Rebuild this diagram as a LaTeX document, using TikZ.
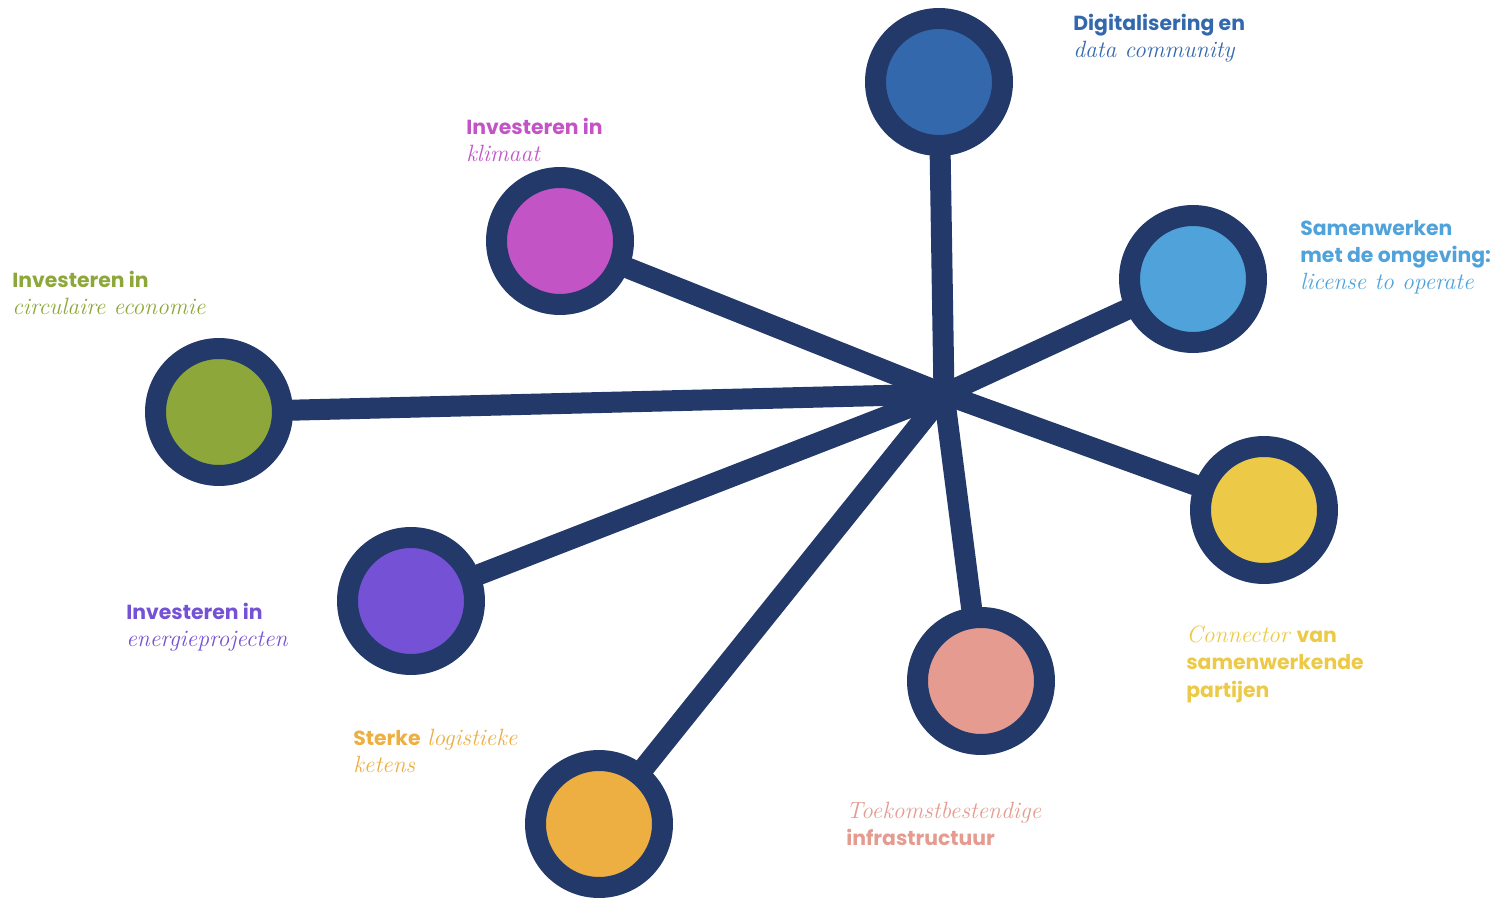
\documentclass[tikz,border=0pt]{standalone}
\usepackage{fontspec}
\newfontfamily\kopfont{Poppins}
\usetikzlibrary{backgrounds}

% kleuren van de ringen en de teksten
\definecolor{navy}{HTML}{22396A}
\definecolor{cblauw}{HTML}{3468AD}
\definecolor{cmagenta}{HTML}{C354C6}
\definecolor{cgroen}{HTML}{8EA73A}
\definecolor{cpaars}{HTML}{7552D5}
\definecolor{coranje}{HTML}{EDAE42}
\definecolor{croze}{HTML}{E59B8F}
\definecolor{cgeel}{HTML}{ECCA48}
\definecolor{clicht}{HTML}{50A2DB}

% vet schreefloos en cursief met schreef
\newcommand\vet[1]{{\fontsize{11.6}{15.4}\selectfont\kopfont\bfseries #1}}
\newcommand\cur[1]{{\fontsize{13.4}{15.4}\selectfont\itshape #1}}

\begin{document}
\begin{tikzpicture}[x=0.02cm, y=-0.02cm,
        bol/.style={circle, draw=navy, line width=0.42cm,
            minimum size=2.54cm, inner sep=0pt},
        spaak/.style={navy, line width=0.42cm, line cap=round},
        tekst/.style={anchor=north west, inner sep=0pt, align=left,
            font=\fontsize{12}{15.4}\selectfont}]
        % vaste rand van het plaatje (pixels van het origineel)
        \useasboundingbox (0,0) rectangle (1501,898);

        % middelpunt waar alle spaken samenkomen
        \coordinate (M) at (944,394);

        % de acht bollen
        \node[bol, fill=cblauw]   (dig)   at (939,82)   {};
        \node[bol, fill=cmagenta] (klim)  at (560,241)  {};
        \node[bol, fill=cgroen]   (circ)  at (219,412)  {};
        \node[bol, fill=cpaars]   (ener)  at (411,601)  {};
        \node[bol, fill=coranje]  (logi)  at (599,824)  {};
        \node[bol, fill=croze]    (infra) at (981,681)  {};
        \node[bol, fill=cgeel]    (conn)  at (1264,510) {};
        \node[bol, fill=clicht]   (samen) at (1193,279) {};

        % spaken achter de bollen
        \begin{scope}[on background layer]
            \foreach \b in {dig,klim,circ,ener,logi,infra,conn,samen}
                \draw[spaak] (M) -- (\b);
        \end{scope}

        % teksten
        \node[tekst, text=cblauw] (tdig) at (1073,14)
            {\vet{Digitalisering en}\\\cur{data community}};
        \node[tekst, text=cmagenta] (tklim) at (466,118)
            {\vet{Investeren in}\\\cur{klimaat}};
        \node[tekst, text=cgroen] (tcirc) at (12,271)
            {\vet{Investeren in}\\\cur{circulaire economie}};
        \node[tekst, text=clicht] (tsamen) at (1300,220)
            {\vet{Samenwerken}\\\vet{met de omgeving:}\\\cur{license to operate}};
        \node[tekst, text=cpaars] (tener) at (126,603)
            {\vet{Investeren in}\\\cur{energieprojecten}};
        \node[tekst, text=cgeel] (tconn) at (1186,626)
            {\cur{Connector} \vet{van}\\\vet{samenwerkende}\\\vet{partijen}};
        \node[tekst, text=coranje] (tlogi) at (353,729)
            {\vet{Sterke} \cur{logistieke}\\\cur{ketens}};
        \node[tekst, text=croze] (tinfra) at (846,802)
            {\cur{Toekomstbestendige}\\\vet{infrastructuur}};
    \end{tikzpicture}
\end{document}
